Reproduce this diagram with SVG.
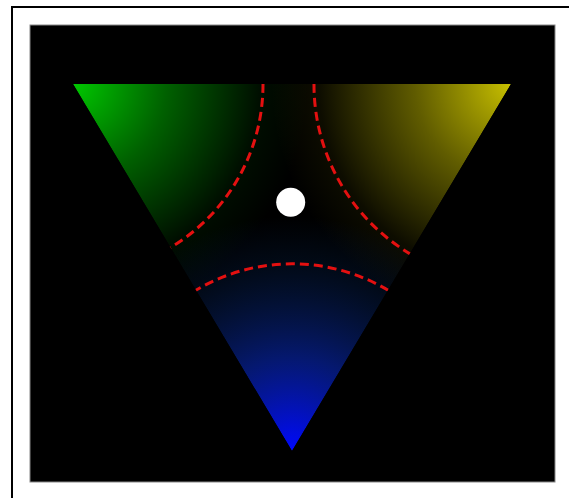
<svg xmlns="http://www.w3.org/2000/svg" width="569" height="498" viewBox="0 0 569 498">
  <defs>
    <radialGradient id="gG" gradientUnits="userSpaceOnUse" cx="73" cy="84" r="235">
      <stop offset="0" stop-color="#00c800" stop-opacity="1"/>
      <stop offset="0.4" stop-color="#00c000" stop-opacity="0.5"/>
      <stop offset="0.8" stop-color="#00c000" stop-opacity="0.07"/>
      <stop offset="1" stop-color="#00c000" stop-opacity="0"/>
    </radialGradient>
    <radialGradient id="gY" gradientUnits="userSpaceOnUse" cx="511" cy="84" r="240">
      <stop offset="0" stop-color="#c8c000" stop-opacity="1"/>
      <stop offset="0.4" stop-color="#c0b800" stop-opacity="0.5"/>
      <stop offset="0.8" stop-color="#c0b800" stop-opacity="0.07"/>
      <stop offset="1" stop-color="#c0b800" stop-opacity="0"/>
    </radialGradient>
    <radialGradient id="gB" gradientUnits="userSpaceOnUse" cx="292" cy="451" r="235">
      <stop offset="0" stop-color="#0008ff" stop-opacity="1"/>
      <stop offset="0.4" stop-color="#0828b8" stop-opacity="0.6"/>
      <stop offset="0.8" stop-color="#083070" stop-opacity="0.2"/>
      <stop offset="1" stop-color="#083070" stop-opacity="0"/>
    </radialGradient>
    <clipPath id="tri">
      <polygon points="73,84 511,84 292,451"/>
    </clipPath>
    <style>
      .arc { fill: none; stroke: #e41010; stroke-width: 3; stroke-dasharray: 9 5; }
    </style>
  </defs>
  <rect x="0" y="0" width="569" height="498" fill="#ffffff"/>
  <rect x="12" y="7" width="620" height="560" fill="none" stroke="#000" stroke-width="2"/>
  <rect id="panel" x="30" y="25" width="525" height="457" fill="#000" stroke="#888" stroke-width="1"/>
  <g id="triangle" clip-path="url(#tri)">
    <polygon points="73,84 511,84 292,451" fill="url(#gG)"/>
    <polygon points="73,84 511,84 292,451" fill="url(#gY)"/>
    <polygon points="73,84 511,84 292,451" fill="url(#gB)"/>
  </g>
  <g id="connectors" clip-path="url(#tri)">
    <path class="arc" d="M263,84 A190,190 0 0,1 168,249"/>
    <path class="arc" d="M314,84 A197,197 0 0,0 412,255"/>
    <path class="arc" d="M193,292 A188,188 0 0,1 391,292"/>
  </g>
  <g id="point">
    <circle cx="290.7" cy="202.3" r="14.5" fill="#ffffff"/>
  </g>
</svg>
